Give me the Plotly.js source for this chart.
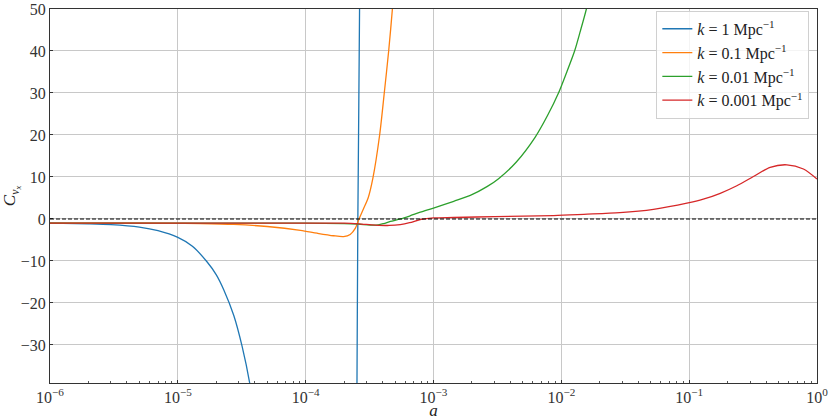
<!DOCTYPE html>
<html>
<head>
<meta charset="utf-8">
<script src="https://cdn.plot.ly/plotly-3.0.1.min.js"></script>
<style>
  body { margin: 0; background: #fff; }
  #grafico { width: 830px; height: 420px; }
</style>
</head>
<body>
<div id="grafico"></div>
<script>
// k = 1 Mpc^-1
const a_k1 = [1e-6, 2e-6, 3e-6, 5e-6, 7e-6, 1e-5, 1.3e-5, 1.69e-5, 2e-5, 2.29e-5, 2.74e-5, 3.18e-5, 3.65e-5, 4.2e-5, 2.45e-4, 2.52e-4, 2.56e-4, 2.64e-4, 2.7e-4];
const c_k1 = [-1.0, -1.17, -1.36, -1.95, -2.8, -4.4, -6.5, -10.2, -13.3, -16.9, -23.0, -30.3, -39.1, -52, -120, -39.1, 0, 50, 120];

// k = 0.1 Mpc^-1
const a_k01 = [1e-6, 3e-6, 1e-5, 1.5e-5, 2.74e-5, 5e-5, 9.1e-5, 1.23e-4, 1.65e-4, 1.98e-4, 2.23e-4, 2.45e-4, 2.59e-4, 2.84e-4, 3.08e-4, 3.36e-4, 3.79e-4, 4.12e-4, 4.46e-4, 4.77e-4, 5.1e-4];
const c_k01 = [-1.0, -1.0, -1.05, -1.1, -1.3, -1.8, -2.7, -3.4, -4.0, -4.2, -3.7, -2.2, -0.3, 2.5, 5.0, 9.8, 20, 30, 40, 50, 62];

// k = 0.01 Mpc^-1
const a_k001 = [1e-6, 1e-5, 1e-4, 2e-4, 2.6e-4, 3.2e-4, 3.7e-4, 4.07e-4, 4.6e-4, 5.5e-4, 6.5e-4, 7.89e-4, 1e-3, 1.44e-3, 1.94e-3, 2.62e-3, 3.23e-3, 4.43e-3, 6.25e-3, 7.76e-3, 9.5e-3, 1.09e-2, 1.27e-2, 1.41e-2, 1.57e-2, 1.8e-2];
const c_k001 = [-1.0, -1.0, -1.0, -1.1, -1.25, -1.45, -1.4, -1.1, -0.6, 0.0, 0.7, 1.6, 2.6, 4.2, 5.6, 7.7, 9.6, 13.5, 19.5, 24.5, 30, 34.6, 40, 44.8, 50, 58];

// k = 0.001 Mpc^-1
const a_k0001 = [1e-6, 1e-5, 1e-4, 2e-4, 2.6e-4, 3.5e-4, 4.5e-4, 5.5e-4, 6.5e-4, 8e-4, 1e-3, 1.44e-3, 3e-3, 8.7e-3, 1.5e-2, 2.87e-2, 5.26e-2, 9.6e-2, 0.129, 0.175, 0.236, 0.318, 0.43, 0.581, 0.783, 1.0];
const c_k0001 = [-1.0, -1.0, -1.0, -1.0, -1.15, -1.45, -1.55, -1.35, -0.9, -0.1, 0.25, 0.35, 0.55, 0.8, 1.1, 1.5, 2.3, 3.75, 4.7, 6.1, 7.9, 10.1, 12.3, 12.9, 11.9, 9.5];

const nomes = ["<i>k</i> = 1 Mpc<sup>−1</sup>", "<i>k</i> = 0.1 Mpc<sup>−1</sup>", "<i>k</i> = 0.01 Mpc<sup>−1</sup>", "<i>k</i> = 0.001 Mpc<sup>−1</sup>"];
const cores = ["#1f77b4", "#ff7f0e", "#2ca02c", "#d62728"];

const xTicks = [1e-6, 1e-5, 1e-4, 1e-3, 1e-2, 1e-1, 1];
const xTickText = ["10<sup>−6</sup>", "10<sup>−5</sup>", "10<sup>−4</sup>", "10<sup>−3</sup>", "10<sup>−2</sup>", "10<sup>−1</sup>", "10<sup>0</sup>"];
const yTicks = [-30, -20, -10, 0, 10, 20, 30, 40, 50];

// minor ticks 2..9 in each decade
let xMinor = [];
for (let d = -6; d < 0; d++) {
    for (let m = 2; m <= 9; m++) xMinor.push(m * Math.pow(10, d));
}

const series = [[a_k1, c_k1], [a_k01, c_k01], [a_k001, c_k001], [a_k0001, c_k0001]];

let traces = series.map((s, i) => ({
    x: s[0],
    y: s[1],
    mode: 'lines',
    name: nomes[i],
    line: { color: cores[i], width: 1.3, shape: 'spline', smoothing: 0.8 }
}));

const fonte = { family: "Liberation Serif, DejaVu Serif, serif", size: 16, color: '#333' };

let layout = {
    width: 830,
    height: 420,
    margin: { l: 50, r: 13, t: 9, b: 37 },
    paper_bgcolor: '#fff',
    plot_bgcolor: '#fff',
    font: fonte,
    showlegend: true,
    legend: {
        x: 0.99, xanchor: 'right', y: 0.995, yanchor: 'top',
        bgcolor: 'rgba(255,255,255,0.8)',
        bordercolor: '#d0d0d0', borderwidth: 1,
        font: { family: fonte.family, size: 16, color: '#222' },
        tracegroupgap: 0
    },
    xaxis: {
        type: 'log',
        range: [-6, 0],
        tickvals: xTicks,
        ticktext: xTickText,
        showgrid: true, gridcolor: '#c8c8c8', gridwidth: 1,
        ticks: 'inside', ticklen: 3, tickcolor: '#333',
        showline: true, linecolor: '#333', linewidth: 1, mirror: true,
        zeroline: false,
        minor: { tickvals: xMinor, ticks: 'inside', ticklen: 2, tickcolor: '#555', showgrid: false },
        title: { text: '<i>a</i>', font: { family: fonte.family, size: 17, color: '#222' }, standoff: 2 },
        tickfont: fonte
    },
    yaxis: {
        range: [-39.07, 50],
        tickvals: yTicks,
        showgrid: true, gridcolor: '#c8c8c8', gridwidth: 1,
        ticks: 'inside', ticklen: 3, tickcolor: '#333',
        showline: true, linecolor: '#333', linewidth: 1, mirror: true,
        zeroline: false,
        title: { text: '<i>C</i><sub><i>v</i><sub><i>x</i></sub></sub>', font: { family: fonte.family, size: 17, color: '#222' }, standoff: 6 },
        tickfont: fonte
    },
    shapes: [{
        type: 'line', xref: 'paper', x0: 0, x1: 1, yref: 'y', y0: 0, y1: 0,
        line: { color: '#000', width: 1.1, dash: '4px,2px' }
    }]
};

Plotly.newPlot('grafico', traces, layout, { staticPlot: true });
</script>
</body>
</html>
